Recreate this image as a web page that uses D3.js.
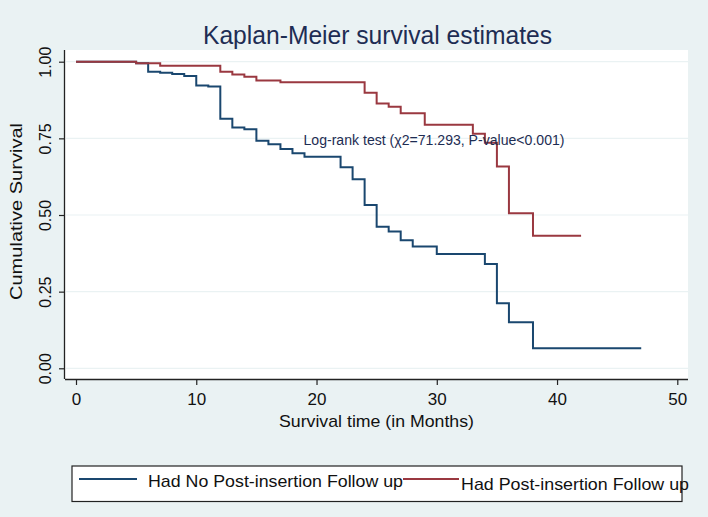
<!DOCTYPE html>
<html>
<head>
<meta charset="utf-8">
<script src="https://cdn.jsdelivr.net/npm/d3@7"></script>
<style>
  html, body { margin: 0; padding: 0; background: #EAF2F3; }
  svg { display: block; }
  text { font-family: "Liberation Sans", Arial, Helvetica, sans-serif; }
</style>
</head>
<body>
<svg id="chart" width="708" height="517"></svg>
<script>
// ---- data ----
const noFollowTimes = [0, 5, 6, 7, 8, 9, 10, 11, 12, 13, 14, 15, 16, 17, 18, 19, 22, 23, 24, 25, 26, 27, 28, 30, 34, 35, 36, 38, 47];
const noFollowSurv  = [1.0, 0.995, 0.967, 0.964, 0.960, 0.953, 0.922, 0.919, 0.814, 0.785, 0.780, 0.742, 0.731, 0.715, 0.701, 0.690, 0.656, 0.617, 0.533, 0.462, 0.446, 0.418, 0.397, 0.373, 0.340, 0.212, 0.150, 0.065, 0.065];
const followTimes = [0, 5, 7, 12, 13, 14, 15, 17, 24, 25, 26, 27, 29, 33, 34, 35, 36, 38, 42];
const followSurv  = [1.0, 0.995, 0.987, 0.967, 0.958, 0.951, 0.939, 0.933, 0.899, 0.864, 0.853, 0.832, 0.794, 0.765, 0.736, 0.658, 0.506, 0.432, 0.432];
const xTicks = [0, 10, 20, 30, 40, 50];
const yTicks = [0, 0.25, 0.5, 0.75, 1];
const seriesNames = ["Had No Post-insertion Follow up", "Had Post-insertion Follow up"];
const seriesColors = ["#1A476F", "#9A3840"];
const titleText = "Kaplan-Meier survival estimates";
const xTitle = "Survival time (in Months)";
const yTitle = "Cumulative Survival";
const annotation = "Log-rank test (\u03C72=71.293, P-value<0.001)";

// ---- layout ----
const svg = d3.select("#chart");
const W = 708, H = 517;
const plot = { left: 65, right: 688, top: 50, bottom: 379 };
const x = d3.scaleLinear().domain([0, 50]).range([76, 677.3]);
const y = d3.scaleLinear().domain([0, 1]).range([368.3, 61.7]);
const ink = "#1E2D53";

svg.append("rect").attr("width", W).attr("height", H).attr("fill", "#EAF2F3");
svg.append("rect")
  .attr("x", plot.left).attr("y", plot.top)
  .attr("width", plot.right - plot.left).attr("height", plot.bottom - plot.top)
  .attr("fill", "#ffffff");

// gridlines
svg.append("g").selectAll("line").data(yTicks).join("line")
  .attr("x1", plot.left + 1).attr("x2", plot.right)
  .attr("y1", d => y(d)).attr("y2", d => y(d))
  .attr("stroke", "#EAF2F3").attr("stroke-width", 1.2);

// axes
const xAxis = d3.axisBottom(x).tickValues(xTicks).tickSize(6).tickPadding(8).tickFormat(d3.format("d"));
const gx = svg.append("g").attr("transform", `translate(0,${plot.bottom})`).call(xAxis);
gx.select(".domain").attr("d", `M${plot.left},0.5H${plot.right}`).attr("stroke", "#222").attr("stroke-width", 1.3);
gx.selectAll(".tick line").attr("stroke", "#222").attr("stroke-width", 1.2);
gx.selectAll(".tick text").attr("font-size", 17).attr("fill", "#111")
  .attr("font-family", "'Liberation Sans', Arial, sans-serif");

const yAxis = d3.axisLeft(y).tickValues(yTicks).tickSize(6).tickPadding(0).tickFormat(d3.format(".2f"));
const gy = svg.append("g").attr("transform", `translate(${plot.left},0)`).call(yAxis);
gy.select(".domain").attr("d", `M-0.5,${plot.top}V${plot.bottom}`).attr("stroke", "#222").attr("stroke-width", 1.3);
gy.selectAll(".tick line").attr("stroke", "#222").attr("stroke-width", 1.2);
gy.selectAll(".tick text")
  .attr("font-size", 16).attr("fill", "#111")
  .attr("font-family", "'Liberation Sans', Arial, sans-serif")
  .attr("x", null).attr("dy", null)
  .attr("text-anchor", "middle")
  .attr("transform", "translate(-20,0) rotate(-90)")
  .attr("dy", "0.36em");

// curves
const line = d3.line().x(d => x(d[0])).y(d => y(d[1])).curve(d3.curveStepAfter);
const series = [
  d3.zip(noFollowTimes, noFollowSurv),
  d3.zip(followTimes, followSurv)
];
svg.append("g").selectAll("path").data(series).join("path")
  .attr("d", line)
  .attr("fill", "none")
  .attr("stroke", (d, i) => seriesColors[i])
  .attr("stroke-width", 2);

// helper to fit text width
function fit(sel, w) {
  sel.attr("textLength", w).attr("lengthAdjust", "spacingAndGlyphs");
  return sel;
}

// title
fit(svg.append("text").attr("x", 377.5).attr("y", 44).attr("text-anchor", "middle")
  .attr("font-size", 25).attr("fill", ink).text(titleText), 349);

// annotation
fit(svg.append("text").attr("x", 303.5).attr("y", 145).attr("font-size", 14).attr("fill", ink)
  .text(annotation), 261);

// axis titles
fit(svg.append("text").attr("x", 376.5).attr("y", 427).attr("text-anchor", "middle")
  .attr("font-size", 17).attr("fill", "#111").text(xTitle), 195);
fit(svg.append("text").attr("transform", `translate(22,${(123 + 300) / 2}) rotate(-90)`)
  .attr("text-anchor", "middle").attr("font-size", 17).attr("fill", "#111").text(yTitle), 177);

// legend
svg.append("rect").attr("x", 72).attr("y", 466).attr("width", 610).attr("height", 35.5)
  .attr("fill", "#ffffff").attr("stroke", "#222").attr("stroke-width", 1.2);
const legendLines = [[79, 137, 479], [403, 459, 479]];
const legendTexts = [[148, 487, 255], [461, 490, 228]];
seriesNames.forEach((name, i) => {
  const [x1, x2, ly] = legendLines[i];
  svg.append("line").attr("x1", x1).attr("x2", x2).attr("y1", ly).attr("y2", ly)
    .attr("stroke", seriesColors[i]).attr("stroke-width", 2);
  const [tx, ty, tw] = legendTexts[i];
  fit(svg.append("text").attr("x", tx).attr("y", ty).attr("font-size", 17).attr("fill", "#111").text(name), tw);
});
</script>
</body>
</html>
